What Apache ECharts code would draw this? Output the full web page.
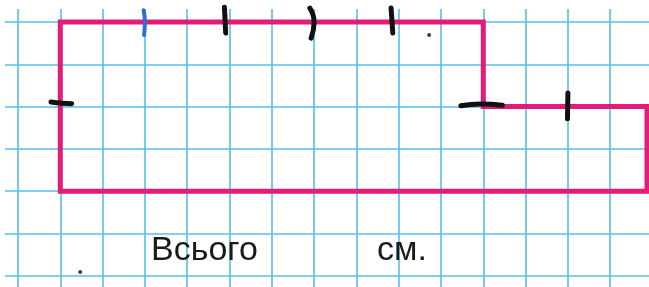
<!DOCTYPE html>
<html>
<head>
<meta charset="utf-8">
<script src="https://cdn.jsdelivr.net/npm/echarts@6/dist/echarts.min.js"></script>
<style>
  html, body { margin: 0; padding: 0; background: #fff; }
  #chart { width: 649px; height: 287px; }
</style>
</head>
<body>
<div id="chart"></div>
<script>
// grid paper in cell units: x = 0 is the first blue line, y = 0 is the top blue line
var shapeX = [1, 11, 11, 14.87, 14.87, 1, 1];
var shapeY = [0, 0, 2, 2, 4, 4, 0];

// hand drawn marks (each one a short stroke)
var markStrokes = [
    [[4.88, -0.35], [4.91, 0.26]],
    [[6.9, -0.33], [7.0, 0.0], [6.93, 0.38]],
    [[8.82, -0.33], [8.86, 0.26]],
    [[0.78, 1.89], [1.05, 1.92], [1.27, 1.93]],
    [[10.47, 1.98], [10.95, 1.94], [11.45, 1.97]],
    [[13.0, 1.68], [12.99, 2.29]]
];
var blueStroke = [[2.97, -0.28], [3.0, 0.0], [2.98, 0.31]];
var dots = [[9.72, 0.31], [1.47, 5.91]];

var labelTotal = "Всього";
var labelUnit = "см.";

var chart = echarts.init(document.getElementById("chart"));

function makeShapeData() {
    var out = [];
    for (var i = 0; i < shapeX.length; i++) {
        out.push([shapeX[i], shapeY[i]]);
    }
    return out;
}

function strokeSeries(points, color, width) {
    return {
        type: 'line',
        data: points,
        symbol: 'none',
        smooth: true,
        silent: true,
        z: 4,
        lineStyle: { color: color, width: width, cap: 'round' }
    };
}

var series = [{
    type: 'line',
    data: makeShapeData(),
    symbol: 'none',
    silent: true,
    z: 3,
    lineStyle: { color: '#e31c79', width: 5, join: 'miter', cap: 'square' }
}];

for (var i = 0; i < markStrokes.length; i++) {
    series.push(strokeSeries(markStrokes[i], '#111111', 5));
}
series.push(strokeSeries(blueStroke, '#2f6fcf', 4));
series.push({
    type: 'scatter',
    data: dots,
    symbolSize: 4,
    silent: true,
    z: 4,
    itemStyle: { color: '#111111' }
});

var option = {
    backgroundColor: '#ffffff',
    animation: false,
    grid: {
        left: -24.3, right: -3.5, top: -20.3, bottom: -31.1,
        outerBoundsMode: 'none'
    },
    xAxis: {
        type: 'value',
        min: -1,
        max: 15,
        interval: 1,
        axisLine: { show: false },
        axisTick: { show: false },
        axisLabel: { show: false },
        splitLine: { show: true, lineStyle: { color: '#55bfe8', width: 1.6 } }
    },
    yAxis: {
        type: 'value',
        inverse: true,
        min: -1,
        max: 7,
        interval: 1,
        axisLine: { show: false },
        axisTick: { show: false },
        axisLabel: { show: false },
        splitLine: { show: true, lineStyle: { color: '#55bfe8', width: 1.6 } }
    },
    graphic: [
        // paper margin, the grid starts a little inside the picture
        { type: 'rect', z: 1, shape: { x: 0, y: 0, width: 5, height: 287 }, style: { fill: '#ffffff' } },
        { type: 'rect', z: 1, shape: { x: 0, y: 0, width: 649, height: 9 }, style: { fill: '#ffffff' } },
        {
            type: 'text', z: 10, x: 151, y: 251,
            style: { text: labelTotal, font: '34px "Liberation Sans", Arial, sans-serif', fill: '#1a1a1a', textVerticalAlign: 'middle' }
        },
        {
            type: 'text', z: 10, x: 377, y: 251,
            style: { text: labelUnit, font: '34px "Liberation Sans", Arial, sans-serif', fill: '#1a1a1a', textVerticalAlign: 'middle' }
        }
    ],
    series: series
};

chart.setOption(option);
</script>
</body>
</html>
